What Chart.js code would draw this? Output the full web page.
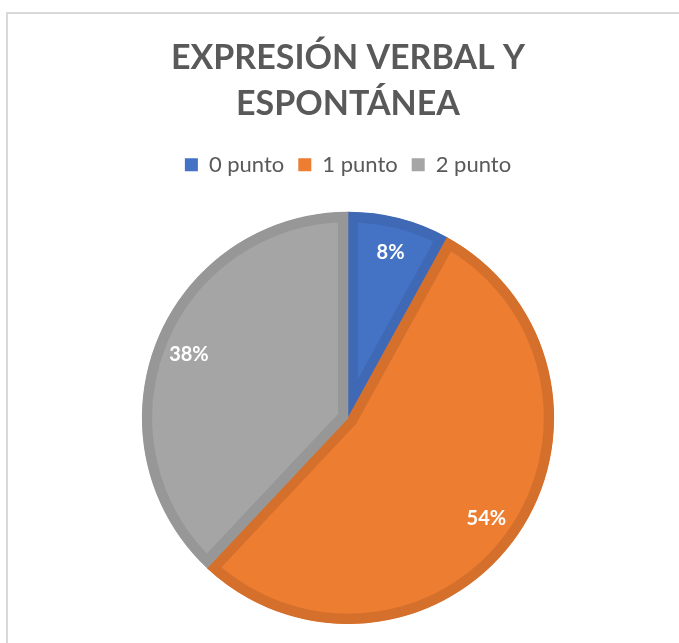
<!DOCTYPE html>
<html>
<head>
<meta charset="utf-8">
<script src="https://cdn.jsdelivr.net/npm/chart.js@4"></script>
<style>
  html, body { margin: 0; padding: 0; background: #fff; overflow: hidden; }
  #frame { position: absolute; left: 6px; top: 12px; width: 720px; height: 700px; border: 2px solid #d9d9d9; box-sizing: border-box; }
  #wrap { position: absolute; left: 0; top: 0; width: 679px; height: 643px; }
</style>
</head>
<body>
<div id="frame"></div>
<div id="wrap"><canvas id="myChart"></canvas></div>
<script>
const labels = ['0 punto', '1 punto', '2 punto'];
const values = [8, 54, 38];
const colors = ['#4472C4', '#ED7D31', '#A5A5A5'];
const borders = ['#3F69B5', '#D5702C', '#979797'];

// percentage labels inside each slice, like Excel
const sliceLabels = {
  id: 'sliceLabels',
  afterDatasetsDraw(chart) {
    const ctx = chart.ctx;
    const meta = chart.getDatasetMeta(0);
    const total = values.reduce((a, b) => a + b, 0);
    ctx.save();
    ctx.fillStyle = '#ffffff';
    ctx.font = 'bold 20px Lato';
    ctx.textAlign = 'center';
    ctx.textBaseline = 'middle';
    meta.data.forEach((arc, i) => {
      const p = arc.getProps(['x', 'y', 'startAngle', 'endAngle', 'outerRadius'], true);
      const mid = (p.startAngle + p.endAngle) / 2;
      const r = p.outerRadius * 0.83;
      ctx.fillText(Math.round(values[i] / total * 100) + '%', p.x + Math.cos(mid) * r, p.y + Math.sin(mid) * r);
    });
    ctx.restore();
  }
};

// extra gap under the legend
const legendGap = {
  id: 'legendGap',
  beforeLayout(chart) {
    const lg = chart.legend;
    if (!lg || lg._gapPatched) return;
    const fit = lg.fit;
    lg.fit = function () {
      fit.call(this);
      this.height += 26;
    };
    lg._gapPatched = true;
  }
};

new Chart(document.getElementById('myChart'), {
  type: 'pie',
  data: {
    labels: labels,
    datasets: [{
      data: values,
      backgroundColor: colors,
      borderColor: borders,
      borderWidth: 10,
      borderAlign: 'inner',
      hoverOffset: 0
    }]
  },
  options: {
    responsive: true,
    maintainAspectRatio: false,
    animation: false,
    layout: { padding: { left: 141, right: 124, top: 0, bottom: 19 } },
    plugins: {
      title: {
        display: true,
        text: ['EXPRESIÓN VERBAL Y', 'ESPONTÁNEA'],
        color: '#595959',
        font: { family: 'Lato', size: 34, weight: 'bold', lineHeight: 1.35 },
        padding: { top: 35, bottom: 13 }
      },
      legend: {
        position: 'top',
        labels: {
          color: '#595959',
          font: { family: 'Lato', size: 22 },
          boxWidth: 13,
          boxHeight: 13,
          padding: 14,
          generateLabels(chart) {
            return Chart.overrides.pie.plugins.legend.labels.generateLabels(chart)
              .map(item => Object.assign(item, { lineWidth: 0 }));
          }
        }
      },
      tooltip: { enabled: false }
    }
  },
  plugins: [sliceLabels, legendGap]
});
</script>
</body>
</html>
